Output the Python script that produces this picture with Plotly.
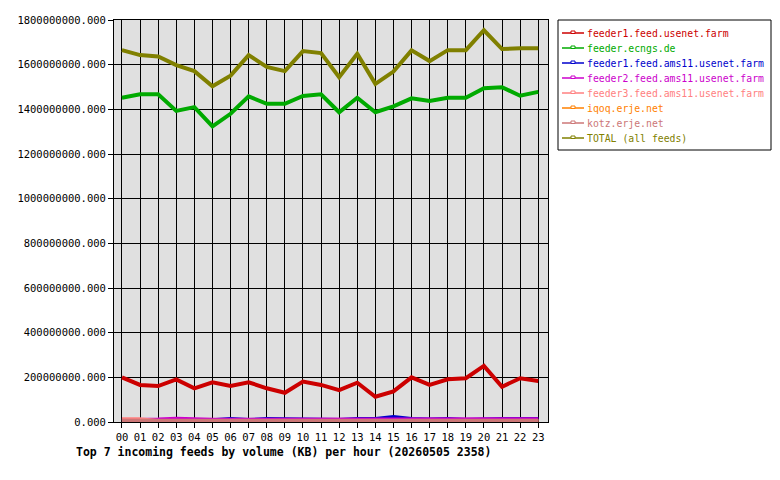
import plotly.graph_objects as go

hours = [f"{h:02d}" for h in range(24)]

feeder1_usenet = [200, 166, 161, 191, 151, 178, 161, 178, 151, 131, 181, 166,
                  143, 176, 113, 137, 200, 166, 191, 196, 251, 158, 196, 184]
ecngs = [1452, 1467, 1467, 1393, 1410, 1324, 1380, 1458, 1425, 1425, 1460, 1467,
         1387, 1452, 1387, 1413, 1449, 1437, 1452, 1452, 1494, 1499, 1461, 1478]
feeder1_ams11 = [6, 6, 8, 9, 8, 8, 13, 9, 13, 12, 11, 13,
                 9, 13, 13, 22, 13, 11, 13, 9, 13, 13, 13, 13]
feeder2_ams11 = [7, 7, 11, 15, 11, 10, 10, 10, 11, 14, 14, 11,
                 10, 11, 11, 11, 11, 14, 12, 10, 12, 12, 12, 12]
feeder3_ams11 = [12, 12, 4, 4, 4, 4, 4, 4, 4, 4, 4, 4,
                 4, 4, 4, 4, 4, 4, 4, 4, 4, 4, 4, 4]
iqoq = [2, 2, 2, 2, 2, 2, 2, 2, 2, 2, 2, 2,
        2, 2, 2, 2, 2, 2, 2, 2, 2, 2, 2, 2]
kotz = [6, 6, 6, 6, 6, 6, 6, 6, 6, 6, 6, 6,
        6, 6, 6, 6, 6, 6, 6, 6, 6, 6, 6, 6]
total = [1665, 1643, 1637, 1598, 1571, 1503, 1551, 1643, 1590, 1571, 1661, 1652,
         1544, 1649, 1514, 1569, 1664, 1616, 1665, 1665, 1754, 1670, 1673, 1673]

names = ["feeder1.feed.usenet.farm", "feeder.ecngs.de", "feeder1.feed.ams11.usenet.farm",
         "feeder2.feed.ams11.usenet.farm", "feeder3.feed.ams11.usenet.farm",
         "iqoq.erje.net", "kotz.erje.net", "TOTAL (all feeds)"]
series = [feeder1_usenet, ecngs, feeder1_ams11, feeder2_ams11, feeder3_ams11, iqoq, kotz, total]
colors = ["#CC0000", "#00AA00", "#0000CC", "#CC00CC", "#FF8080", "#FF8000", "#CC7777", "#808000"]

title = "Top 7 incoming feeds by volume (KB) per hour (20260505 2358)"

FONT = "DejaVu Sans Mono"
W, H = 780, 480
L, R, T, B = 114, 548, 20, 422

fig = go.Figure()
for name, vals, col in zip(names, series, colors):
    fig.add_trace(go.Scatter(
        x=list(range(24)), y=[v * 1e6 for v in vals], mode="lines", name=name,
        line=dict(color=col, width=4), showlegend=False,
    ))

def px_x(p):
    return (p - L) / (R - L)

def px_y(p):
    return (B - p) / (B - T)

shapes = []
annotations = []
# legend box
shapes.append(dict(type="rect", xref="paper", yref="paper",
                   x0=px_x(558), x1=px_x(771), y0=px_y(20), y1=px_y(150),
                   line=dict(color="black", width=1), fillcolor="white", layer="above"))
for i, (name, col) in enumerate(zip(names, colors)):
    yy = 33 + i * 15.0
    shapes.append(dict(type="line", xref="paper", yref="paper",
                       x0=px_x(562), x1=px_x(584), y0=px_y(yy), y1=px_y(yy),
                       line=dict(color=col, width=1.5), layer="above"))
    shapes.append(dict(type="rect", xref="paper", yref="paper",
                       x0=px_x(571), x1=px_x(575), y0=px_y(yy - 2), y1=px_y(yy + 0.5),
                       line=dict(color=col, width=1), fillcolor="white", layer="above"))
    annotations.append(dict(xref="paper", yref="paper", x=px_x(585), y=px_y(yy),
                            xanchor="left", yanchor="middle", text=name, showarrow=False,
                            font=dict(family=FONT, size=9.8, color=col)))

annotations.append(dict(xref="paper", yref="paper", x=px_x(74), y=px_y(452),
                        xanchor="left", yanchor="middle", text="<b>" + title + "</b>",
                        showarrow=False, font=dict(family=FONT, size=11.5, color="black")))

fig.update_layout(
    width=W, height=H,
    margin=dict(l=L, r=W - R, t=T, b=H - B),
    paper_bgcolor="white", plot_bgcolor="#E0E0E0",
    font=dict(family=FONT, size=10.5, color="black"),
    shapes=shapes, annotations=annotations, showlegend=False,
)
fig.update_xaxes(
    range=[-0.44, 23.54], tickmode="array", tickvals=list(range(24)), ticktext=hours,
    showgrid=True, gridcolor="black", gridwidth=1,
    showline=True, linecolor="black", linewidth=1, mirror=True,
    ticks="outside", ticklen=5, tickcolor="black", tickfont=dict(size=10.5),
    zeroline=False, fixedrange=True,
)
fig.update_yaxes(
    range=[0, 1.8e9], tickmode="linear", tick0=0, dtick=2e8, tickformat=".3f",
    showgrid=True, gridcolor="black", gridwidth=1,
    showline=True, linecolor="black", linewidth=1, mirror=True,
    ticks="outside", ticklen=5, tickcolor="black", zeroline=False,
)

fig.write_html("out.html")
